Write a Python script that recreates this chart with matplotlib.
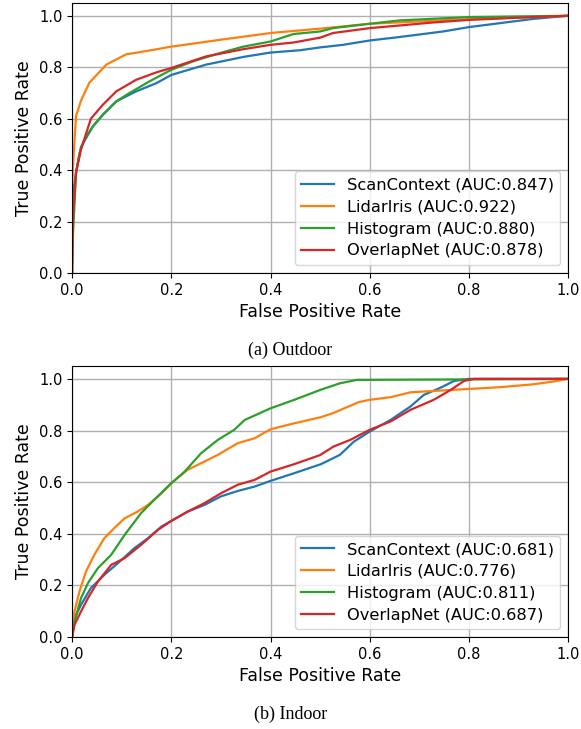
import matplotlib
matplotlib.use("Agg")
import matplotlib.pyplot as plt

# ---- outdoor ROC ----
out_sc_x = [0.0, 0.0, 0.008, 0.018, 0.042, 0.062, 0.089, 0.129, 0.17, 0.2, 0.27, 0.345, 0.4, 0.459, 0.5, 0.546, 0.6, 0.654, 0.748, 0.8, 0.93, 1.0]
out_sc_y = [0.0, 0.285, 0.39, 0.49, 0.57, 0.615, 0.667, 0.706, 0.738, 0.77, 0.81, 0.84, 0.857, 0.866, 0.877, 0.887, 0.904, 0.916, 0.939, 0.956, 0.988, 1.0]

out_li_x = [0.0, 0.0, 0.003, 0.008, 0.018, 0.035, 0.069, 0.109, 0.156, 0.2, 0.3, 0.4, 0.5, 0.6, 0.8, 1.0]
out_li_y = [0.0, 0.35, 0.45, 0.61, 0.67, 0.74, 0.81, 0.85, 0.865, 0.88, 0.907, 0.933, 0.95, 0.969, 0.987, 1.0]

out_hi_x = [0.0, 0.002, 0.008, 0.015, 0.025, 0.042, 0.062, 0.089, 0.116, 0.156, 0.2, 0.244, 0.298, 0.345, 0.4, 0.446, 0.5, 0.526, 0.6, 0.66, 0.8, 1.0]
out_hi_y = [0.0, 0.155, 0.39, 0.466, 0.52, 0.57, 0.615, 0.667, 0.70, 0.745, 0.79, 0.823, 0.855, 0.88, 0.90, 0.929, 0.939, 0.952, 0.969, 0.982, 0.995, 1.0]

out_ov_x = [0.0, 0.002, 0.008, 0.018, 0.038, 0.062, 0.089, 0.129, 0.17, 0.2, 0.27, 0.345, 0.4, 0.446, 0.5, 0.526, 0.6, 0.728, 0.8, 0.93, 1.0]
out_ov_y = [0.0, 0.22, 0.39, 0.48, 0.60, 0.654, 0.706, 0.751, 0.78, 0.797, 0.842, 0.87, 0.887, 0.896, 0.915, 0.933, 0.952, 0.974, 0.984, 0.995, 1.0]

# ---- indoor ROC ----
in_sc_x = [0.0, 0.005, 0.018, 0.038, 0.065, 0.092, 0.126, 0.153, 0.18, 0.2, 0.233, 0.267, 0.3, 0.334, 0.368, 0.4, 0.448, 0.502, 0.54, 0.568, 0.6, 0.642, 0.682, 0.709, 0.743, 0.77, 0.8, 1.0]
in_sc_y = [0.0, 0.074, 0.125, 0.19, 0.241, 0.286, 0.345, 0.383, 0.428, 0.45, 0.486, 0.512, 0.545, 0.566, 0.583, 0.605, 0.635, 0.67, 0.706, 0.757, 0.796, 0.841, 0.893, 0.938, 0.966, 0.992, 1.0, 1.0]

in_li_x = [0.0, 0.005, 0.015, 0.028, 0.045, 0.065, 0.085, 0.106, 0.132, 0.153, 0.18, 0.2, 0.233, 0.267, 0.294, 0.334, 0.368, 0.4, 0.448, 0.502, 0.527, 0.578, 0.6, 0.642, 0.682, 0.8, 0.864, 0.93, 0.971, 1.0]
in_li_y = [0.0, 0.10, 0.177, 0.254, 0.319, 0.383, 0.422, 0.46, 0.486, 0.512, 0.557, 0.596, 0.648, 0.68, 0.706, 0.751, 0.77, 0.805, 0.828, 0.852, 0.868, 0.91, 0.919, 0.929, 0.948, 0.961, 0.968, 0.979, 0.99, 1.0]

in_hi_x = [0.0, 0.005, 0.018, 0.032, 0.052, 0.079, 0.106, 0.139, 0.166, 0.2, 0.227, 0.26, 0.294, 0.327, 0.348, 0.4, 0.448, 0.5, 0.54, 0.574, 0.8, 1.0]
in_hi_y = [0.0, 0.06, 0.151, 0.209, 0.267, 0.319, 0.396, 0.48, 0.532, 0.596, 0.641, 0.712, 0.764, 0.803, 0.841, 0.886, 0.919, 0.957, 0.983, 0.996, 0.998, 1.0]

in_ov_x = [0.0, 0.005, 0.018, 0.032, 0.052, 0.079, 0.106, 0.139, 0.173, 0.2, 0.233, 0.267, 0.3, 0.334, 0.368, 0.4, 0.448, 0.5, 0.527, 0.561, 0.6, 0.642, 0.682, 0.729, 0.763, 0.79, 0.81, 1.0]
in_ov_y = [0.0, 0.048, 0.099, 0.151, 0.215, 0.28, 0.306, 0.357, 0.415, 0.45, 0.486, 0.519, 0.557, 0.59, 0.609, 0.641, 0.67, 0.705, 0.738, 0.764, 0.803, 0.835, 0.88, 0.919, 0.957, 0.992, 1.0, 1.0]

names = ["ScanContext", "LidarIris", "Histogram", "OverlapNet"]
auc_out = ["0.847", "0.922", "0.880", "0.878"]
auc_in = ["0.681", "0.776", "0.811", "0.687"]
captions = ["(a) Outdoor", "(b) Indoor"]

fig = plt.figure(figsize=(5.81, 7.29), dpi=100)
ax1 = fig.add_axes([0.124, 0.6255, 0.854, 0.3705])
ax2 = fig.add_axes([0.124, 0.126, 0.854, 0.372])

panels = [
    (ax1, [(out_sc_x, out_sc_y), (out_li_x, out_li_y), (out_hi_x, out_hi_y), (out_ov_x, out_ov_y)], auc_out),
    (ax2, [(in_sc_x, in_sc_y), (in_li_x, in_li_y), (in_hi_x, in_hi_y), (in_ov_x, in_ov_y)], auc_in),
]
for ax, curves, aucs in panels:
    for (x, y), n, a in zip(curves, names, aucs):
        ax.plot(x, y, lw=1.6, label=f"{n} (AUC:{a})")
    ax.set_xlim(0, 1)
    ax.set_ylim(0, 1.05)
    ax.set_xticks([0, 0.2, 0.4, 0.6, 0.8, 1.0])
    ax.set_yticks([0, 0.2, 0.4, 0.6, 0.8, 1.0])
    ax.tick_params(labelsize=10.5)
    ax.grid(True, color="#b0b0b0", lw=1.0)
    ax.set_xlabel("False Positive Rate", fontsize=12.5)
    ax.set_ylabel("True Positive Rate", fontsize=12.5)
    ax.legend(loc="lower right", fontsize=11.7, labelspacing=0.42)

fig.text(0.5, 1 - 350 / 729, captions[0], ha="center", va="center", family="Liberation Serif", fontsize=13)
fig.text(0.5, 1 - 714 / 729, captions[1], ha="center", va="center", family="Liberation Serif", fontsize=13)

fig.savefig("out.png", dpi=100)
